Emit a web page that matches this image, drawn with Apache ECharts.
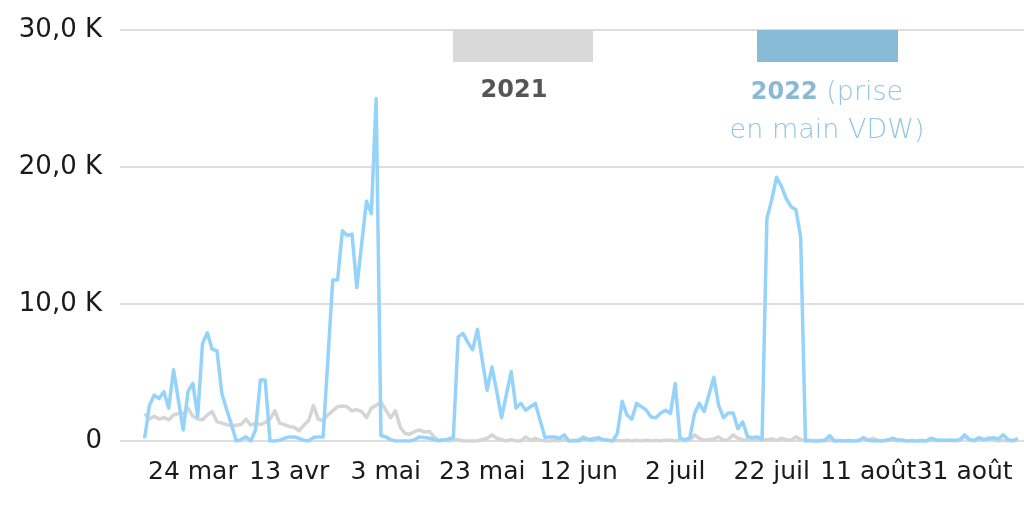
<!DOCTYPE html>
<html>
<head>
<meta charset="utf-8">
<script src="https://cdn.jsdelivr.net/npm/echarts@6/dist/echarts.min.js"></script>
<style>
html,body{margin:0;padding:0;background:#fff;}
#chart{width:1024px;height:507px;}
</style>
</head>
<body>
<div id="chart"></div>
<script>
// Day index 0 = 14 mars; values in thousands
var tickIndex = [10, 30, 50, 70, 90, 110, 130, 150, 170];
var tickLabels = ['24 mar', '13 avr', '3 mai', '23 mai', '12 jun', '2 juil', '22 juil', '11 août', '31 août'];
var yTicks = [0, 10, 20, 30];

var values2022 = [
  0.2, 2.6, 3.35, 3.1, 3.6, 2.4, 5.2, 3.0, 0.8, 3.6,
  4.2, 1.8, 7.1, 7.9, 6.7, 6.6, 3.5, 2.3, 1.2, 0.0,
  0.1, 0.3, 0.0, 0.8, 4.45, 4.45, 0.0, 0.0, 0.05, 0.2,
  0.3, 0.3, 0.2, 0.05, 0.0, 0.25, 0.3, 0.3, 6.0, 11.75,
  11.75, 15.35, 15.0, 15.1, 11.2, 14.4, 17.5, 16.6, 25.0, 0.4,
  0.3, 0.1, 0.0, 0.0, 0.0, 0.0, 0.1, 0.3, 0.25, 0.2,
  0.1, 0.0, 0.05, 0.15, 0.25, 7.6, 7.85, 7.2, 6.65, 8.15,
  5.9, 3.7, 5.4, 3.6, 1.7, 3.4, 5.05, 2.4, 2.75, 2.25,
  2.5, 2.75, 1.5, 0.25, 0.3, 0.3, 0.2, 0.45, 0.0, 0.0,
  0.0, 0.2, 0.1, 0.1, 0.25, 0.1, 0.05, 0.0, 0.55, 2.9,
  1.9, 1.6, 2.75, 2.5, 2.25, 1.75, 1.7, 2.05, 2.25, 2.0,
  4.2, 0.2, 0.1, 0.2, 2.0, 2.75, 2.15, 3.4, 4.65, 2.6,
  1.7, 2.05, 2.05, 0.9, 1.4, 0.3, 0.25, 0.3, 0.1, 16.25,
  17.6, 19.25, 18.6, 17.7, 17.1, 16.9, 14.9, 0.0, 0.0, 0.0,
  0.0, 0.05, 0.4, 0.0, 0.0, 0.0, 0.0, 0.0, 0.0, 0.25,
  0.05, 0.0, 0.0, 0.0, 0.05, 0.2, 0.1, 0.05, 0.0, 0.0,
  0.0, 0.0, 0.0, 0.2, 0.1, 0.05, 0.05, 0.05, 0.05, 0.1,
  0.45, 0.1, 0.05, 0.25, 0.1, 0.15, 0.25, 0.15, 0.45, 0.1,
  0.0, 0.2
];

var values2021 = [
  2.0, 1.6, 1.8, 1.6, 1.7, 1.55, 1.9, 2.0, 2.0, 2.4,
  1.8, 1.6, 1.55, 1.9, 2.15, 1.4, 1.3, 1.2, 1.1, 1.15,
  1.2, 1.6, 1.15, 1.3, 1.2, 1.35, 1.6, 2.2, 1.3, 1.2,
  1.05, 1.0, 0.75, 1.15, 1.5, 2.6, 1.6, 1.5, 1.9, 2.2,
  2.5, 2.55, 2.5, 2.2, 2.3, 2.15, 1.7, 2.4, 2.6, 2.85,
  2.25, 1.7, 2.2, 1.0, 0.55, 0.5, 0.7, 0.8, 0.65, 0.7,
  0.3, 0.05, 0.1, 0.0, 0.05, 0.1, 0.0, 0.0, 0.0, 0.0,
  0.1, 0.2, 0.45, 0.2, 0.1, 0.0, 0.1, 0.0, 0.0, 0.3,
  0.05, 0.2, 0.05, 0.0, 0.0, 0.05, 0.0, 0.1, 0.0, 0.05,
  0.1, 0.3, 0.1, 0.2, 0.15, 0.1, 0.05, 0.0, 0.05, 0.0,
  0.05, 0.0, 0.05, 0.0, 0.05, 0.0, 0.05, 0.0, 0.05, 0.05,
  0.0, 0.05, 0.0, 0.05, 0.45, 0.2, 0.05, 0.1, 0.15, 0.3,
  0.05, 0.1, 0.45, 0.2, 0.1, 0.05, 0.1, 0.05, 0.1, 0.1,
  0.15, 0.05, 0.2, 0.1, 0.05, 0.3, 0.1, 0.05, 0.05, 0.0,
  0.05, 0.0, 0.05, 0.0, 0.05, 0.0, 0.05, 0.0, 0.05, 0.15,
  0.05, 0.2, 0.05, 0.0, 0.1, 0.05, 0.0, 0.05, 0.0, 0.05,
  0.0, 0.05, 0.0, 0.05, 0.0, 0.05, 0.0, 0.05, 0.0, 0.05,
  0.3, 0.05, 0.0, 0.05, 0.1, 0.25, 0.05, 0.0, 0.05, 0.0,
  0.05, 0.05
];

function toPairs(arr) { return arr.map(function (v, i) { return [i, v]; }); }

var chart = echarts.init(document.getElementById('chart'), null, { renderer: 'canvas' });
var option = {
  animation: false,
  backgroundColor: '#ffffff',
  grid: { left: 120, right: 0, top: 30, bottom: 66, containLabel: false },
  xAxis: {
    type: 'value',
    min: -5.1,
    max: 182.3,
    axisLine: { show: false },
    axisTick: { show: false },
    splitLine: { show: false },
    axisLabel: {
      customValues: tickIndex,
      formatter: function (v) {
        var k = tickIndex.indexOf(Math.round(v));
        return k >= 0 ? tickLabels[k] : '';
      },
      fontFamily: 'DejaVu Sans',
      fontSize: 25,
      color: '#1a1a1a',
      margin: 19,
      hideOverlap: false
    }
  },
  yAxis: {
    type: 'value',
    min: yTicks[0],
    max: yTicks[yTicks.length - 1],
    interval: 10,
    axisLine: { show: false },
    axisTick: { show: false },
    splitLine: { show: true, lineStyle: { color: '#dedede', width: 2 } },
    axisLabel: {
      formatter: function (v) {
        return v === 0 ? '0' : v.toFixed(1).replace('.', ',') + ' K';
      },
      fontFamily: 'DejaVu Sans',
      fontSize: 26,
      color: '#1a1a1a',
      margin: 18
    }
  },
  series: [
    {
      name: '2021',
      type: 'line',
      data: toPairs(values2021),
      symbol: 'none',
      lineStyle: { color: '#d5d5d5', width: 3.5, join: 'round' },
      z: 2
    },
    {
      name: '2022',
      type: 'line',
      data: toPairs(values2022),
      symbol: 'none',
      lineStyle: { color: '#96d3fa', width: 3.5, join: 'round' },
      z: 3
    }
  ],
  graphic: [
    { type: 'rect', shape: { x: 453, y: 30, width: 140, height: 32 }, style: { fill: '#d9d9d9' }, z: 10 },
    { type: 'rect', shape: { x: 757, y: 30, width: 141, height: 32 }, style: { fill: '#8abbd6' }, z: 10 },
    {
      type: 'text', x: 514, y: 91, z: 10,
      style: { text: '2021', fill: '#555555', font: 'bold 24px "DejaVu Sans"', align: 'center', verticalAlign: 'middle' }
    },
    {
      type: 'text', x: 827, y: 93, z: 10,
      style: {
        text: '{b|2022}{l| (prise}',
        align: 'center', verticalAlign: 'middle',
        rich: {
          b: { fontFamily: 'DejaVu Sans', fontWeight: 'bold', fontSize: 24, fill: '#8ab9d5', color: '#8ab9d5' },
          l: { fontFamily: 'DejaVu Sans', fontWeight: 200, fontSize: 27, fill: '#94c6e4', color: '#94c6e4' }
        }
      }
    },
    {
      type: 'text', x: 827, y: 131, z: 10,
      style: { text: 'en main VDW)', fill: '#94c6e4', fontFamily: 'DejaVu Sans', fontWeight: 200, fontSize: 27, align: 'center', verticalAlign: 'middle' }
    }
  ]
};
chart.setOption(option);
</script>
</body>
</html>
